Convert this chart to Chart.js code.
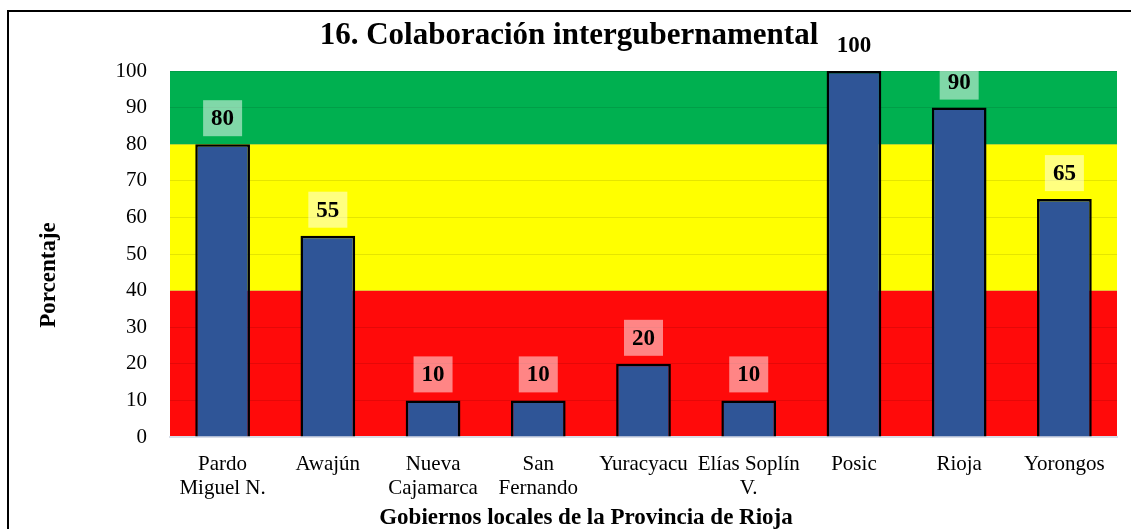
<!DOCTYPE html>
<html>
<head>
<meta charset="utf-8">
<script src="https://cdn.jsdelivr.net/npm/chart.js"></script>
<style>
  html, body { margin: 0; padding: 0; background: #fff; }
  #wrap { width: 1131px; height: 529px; }
</style>
</head>
<body>
<div id="wrap"><canvas id="barChart"></canvas></div>
<script>
var categorias = [["Pardo", "Miguel N."], "Awajún", ["Nueva", "Cajamarca"], ["San", "Fernando"],
    "Yuracyacu", ["Elías Soplín", "V."], "Posic", "Rioja", "Yorongos"];
var porcentajes = [80, 55, 10, 10, 20, 10, 100, 90, 65];
// semaforo: rojo 0-40, amarillo 40-80, verde 80-100
var franjasDesde = [0, 40, 80];
var franjasHasta = [40, 80, 100];
var franjasColor = ["#FF0A0A", "#FFFF00", "#00B050"];

var serif = "'Liberation Serif', 'Times New Roman', serif";

var fondoFranjas = {
    id: 'fondoFranjas',
    beforeDraw: function (chart) {
        var ctx = chart.ctx, area = chart.chartArea, y = chart.scales.y;
        ctx.save();
        // marco del grafico
        ctx.strokeStyle = '#000';
        ctx.lineWidth = 2;
        ctx.strokeRect(8, 11, 1140, 540);
        for (var i = 0; i < franjasDesde.length; i++) {
            var top = y.getPixelForValue(franjasHasta[i]);
            var bot = y.getPixelForValue(franjasDesde[i]);
            ctx.fillStyle = franjasColor[i];
            ctx.fillRect(area.left, top, area.right - area.left, bot - top);
        }
        ctx.restore();
    }
};

var etiquetas = {
    id: 'etiquetas',
    afterDatasetsDraw: function (chart) {
        var ctx = chart.ctx;
        var meta = chart.getDatasetMeta(0);
        ctx.save();
        ctx.font = 'bold 23px ' + serif;
        ctx.textAlign = 'center';
        ctx.textBaseline = 'middle';
        meta.data.forEach(function (bar, i) {
            var txt = String(porcentajes[i]);
            var w = ctx.measureText(txt).width + 16;
            var h = 36;
            var yb = bar.y - 8;
            ctx.fillStyle = 'rgba(255,255,255,0.5)';
            ctx.fillRect(bar.x - w / 2, yb - h, w, h);
            ctx.fillStyle = '#000';
            ctx.fillText(txt, bar.x, yb - h / 2 + 1);
        });
        ctx.restore();
    },
    afterDraw: function (chart) {
        var ctx = chart.ctx;
        ctx.save();
        ctx.fillStyle = '#000';
        ctx.textAlign = 'center';
        ctx.textBaseline = 'middle';
        ctx.font = 'bold 31px ' + serif;
        ctx.fillText('16. Colaboración intergubernamental', 569, 36);
        ctx.font = 'bold 23px ' + serif;
        ctx.fillText('Gobiernos locales de la Provincia de Rioja', 586, 518);
        ctx.translate(49, 275);
        ctx.rotate(-Math.PI / 2);
        ctx.fillText('Porcentaje', 0, 0);
        ctx.restore();
    }
};

var ctxBar = document.getElementById("barChart").getContext('2d');
var myBarChart = new Chart(ctxBar, {
    type: 'bar',
    data: {
        labels: categorias,
        datasets: [{
                data: porcentajes,
                backgroundColor: "#2F5597",
                borderColor: "#000",
                borderWidth: 2.5,
                borderSkipped: 'bottom',
                barPercentage: 0.52,
                categoryPercentage: 1
            }]
    },
    options: {
        responsive: true,
        maintainAspectRatio: false,
        animation: false,
        layout: {
            padding: {left: 0, right: 14, top: 71, bottom: 0}
        },
        plugins: {
            legend: {display: false},
            tooltip: {enabled: false},
            title: {display: false}
        },
        scales: {
            x: {
                grid: {display: false},
                border: {color: '#D9DDE8', width: 2},
                ticks: {
                    color: '#000',
                    font: {family: serif, size: 21, lineHeight: 1.15},
                    padding: 7,
                    maxRotation: 0,
                    autoSkip: false
                },
                afterFit: function (scale) { scale.height = 92; }
            },
            y: {
                min: 0,
                max: 100,
                grid: {color: 'rgba(0,0,0,0.1)', drawTicks: false},
                border: {display: false},
                ticks: {
                    stepSize: 10,
                    color: '#000',
                    font: {family: serif, size: 21},
                    padding: 23
                },
                afterFit: function (scale) { scale.width = 170; }
            }
        }
    },
    plugins: [fondoFranjas, etiquetas]
});
</script>
</body>
</html>
